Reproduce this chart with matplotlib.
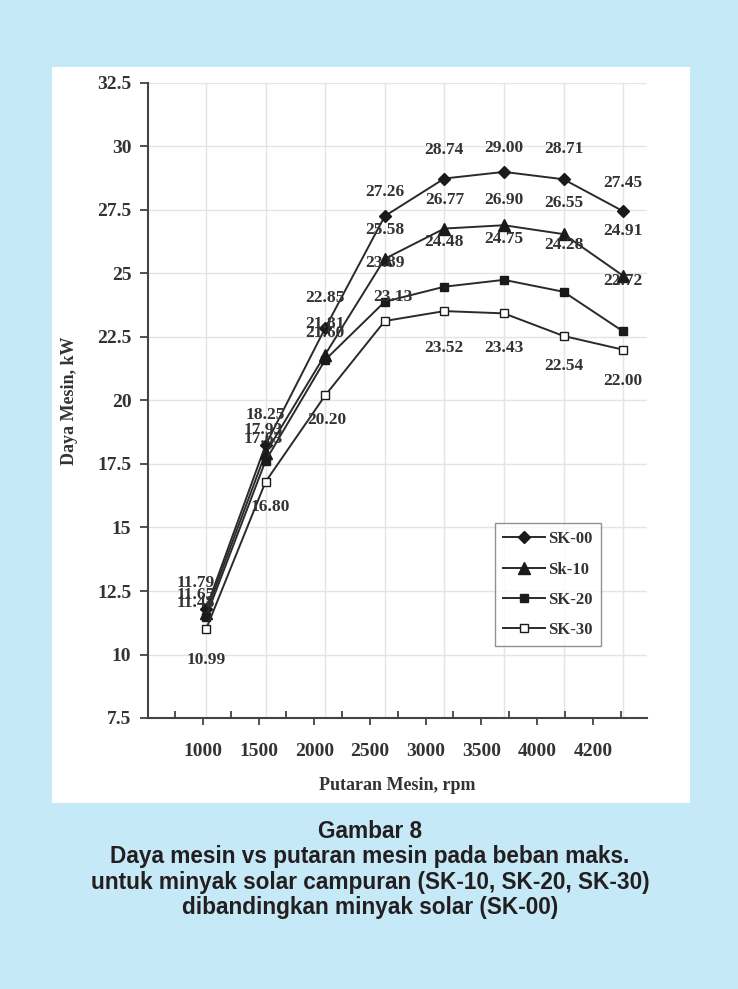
import matplotlib
matplotlib.use("Agg")
import matplotlib.pyplot as plt
from matplotlib.patches import Rectangle

# data
rpm_labels = ["1000", "1500", "2000", "2500", "3000", "3500", "4000", "4200"]
sk00 = [11.79, 18.25, 22.85, 27.26, 28.74, 29.00, 28.71, 27.45]
sk10 = [11.65, 17.93, 21.81, 25.58, 26.77, 26.90, 26.55, 24.91]
sk20 = [11.48, 17.63, 21.60, 23.89, 24.48, 24.75, 24.28, 22.72]
sk30 = [10.99, 16.80, 20.20, 23.13, 23.52, 23.43, 22.54, 22.00]
series_names = ["SK-00", "Sk-10", "SK-20", "SK-30"]

# label offsets in pixels (dx, dy) relative to each marker
off00 = [(-10, 26), (0, 30), (0, 30), (0, 24), (0, 29), (0, 24), (0, 30), (0, 28)]
off10 = [(-10, 18), (-2, 23), (0, 31), (0, 29), (0, 29), (0, 25), (0, 31), (0, 45)]
off20 = [(-10, 14), (-2, 22), (0, 27), (0, 39), (0, 45), (0, 41), (0, 47), (0, 50)]
off30 = [(0, -31), (5, -25), (2, -25), (8, 24), (0, -37), (0, -35), (0, -30), (0, -31)]

BG = "#C6E9F8"
DPI = 100
fig = plt.figure(figsize=(7.38, 9.89), dpi=DPI, facecolor=BG)

# white panel behind the chart
fig.patches.append(Rectangle((52 / 738, 1 - 803 / 989), 638 / 738, 736 / 989,
                             transform=fig.transFigure, facecolor="white",
                             edgecolor="none", zorder=-5))

ax = fig.add_axes([148 / 738, 1 - 718 / 989, (647 - 148) / 738, (718 - 83) / 989])
ax.set_zorder(2)
ax.set_facecolor("white")

serif = "Liberation Serif"
tc = "#333333"

x = list(range(len(rpm_labels)))
styles = [
    dict(marker="D", markersize=6.5, markerfacecolor="#1a1a1a"),
    dict(marker="^", markersize=8.5, markerfacecolor="#1a1a1a"),
    dict(marker="s", markersize=6, markerfacecolor="#1a1a1a"),
    dict(marker="s", markersize=6, markerfacecolor="white"),
]
all_series = [sk00, sk10, sk20, sk30]
all_offsets = [off00, off10, off20, off30]

for name, vals, st, offs in zip(series_names, all_series, styles, all_offsets):
    ax.plot(x, vals, color="#2a2a2a", linewidth=1.4, markeredgecolor="#1a1a1a",
            markeredgewidth=1.0, label=name, zorder=3, **st)
    for xi, v, (dx, dy) in zip(x, vals, offs):
        ax.annotate(f"{v:.2f}", (xi, v), xytext=(dx * 72 / DPI, dy * 72 / DPI),
                    textcoords="offset points", ha="center", va="center",
                    fontsize=12.5, fontweight="bold", family=serif, color=tc,
                    zorder=4)

ax.set_xlim(-0.973, 7.40)
ax.set_ylim(7.5, 32.5)
ax.set_yticks([7.5 + 2.5 * i for i in range(11)])
ax.set_yticklabels(["7.5", "10", "12.5", "15", "17.5", "20", "22.5", "25",
                    "27.5", "30", "32.5"])

# x labels sit on a slightly tighter spacing than the data points
step = 55.7 / 59.6
tick_pos = [-0.05 + step * i for i in range(len(rpm_labels))]
ax.set_xticks(tick_pos)
ax.set_xticklabels(rpm_labels)
ax.set_xticks([p - 0.47 for p in tick_pos] + [tick_pos[-1] + 0.47], minor=True)
ax.tick_params(axis="x", which="major", direction="out", length=5, width=1.2,
               color="#333333", pad=13)
ax.tick_params(axis="x", which="minor", direction="in", length=5, width=1.2,
               color="#333333")
ax.tick_params(axis="y", direction="out", length=6, width=1.2, color="#333333", pad=6)
for lab in ax.get_xticklabels() + ax.get_yticklabels():
    lab.set_fontfamily(serif)
    lab.set_fontweight("bold")
    lab.set_fontsize(14)
    lab.set_color(tc)

# grid: horizontal at the y ticks, vertical through the data columns
ax.grid(axis="y", color="#e4e4e4", linewidth=1.0, zorder=0)
ax.vlines(x, 7.5, 32.5, color="#e4e4e4", linewidth=1.0, zorder=0)

for s in ["top", "right"]:
    ax.spines[s].set_visible(False)
ax.spines["left"].set_color("#444444")
ax.spines["left"].set_linewidth(1.5)
ax.spines["bottom"].set_color("#444444")
ax.spines["bottom"].set_linewidth(1.5)

ax.set_ylabel("Daya Mesin, kW", family=serif, fontweight="bold", fontsize=13,
              color=tc, labelpad=14)
ax.set_xlabel("Putaran Mesin, rpm", family=serif, fontweight="bold", fontsize=13,
              color=tc, labelpad=12)

leg = ax.legend(loc="upper left", bbox_to_anchor=(495 / 738, 1 - 523 / 989),
                bbox_transform=fig.transFigure, borderaxespad=0, frameon=True,
                fancybox=False, edgecolor="#777777", handlelength=2.5,
                labelspacing=0.85, borderpad=0.5, handletextpad=0.2,
                prop=dict(family=serif, weight="bold", size=12))
leg.get_frame().set_linewidth(1.0)
for t in leg.get_texts():
    t.set_color(tc)

caption = ["Gambar 8",
           "Daya mesin vs putaran mesin pada beban maks.",
           "untuk minyak solar campuran (SK-10, SK-20, SK-30)",
           "dibandingkan minyak solar (SK-00)"]
for i, line in enumerate(caption):
    fig.text(370 / 738, 1 - (831 + 25.5 * i) / 989, line, ha="center", va="center",
             family="Liberation Sans", fontweight="bold", fontsize=16.3,
             color="#231f20")

fig.savefig("out.png", dpi=DPI, facecolor=BG)
